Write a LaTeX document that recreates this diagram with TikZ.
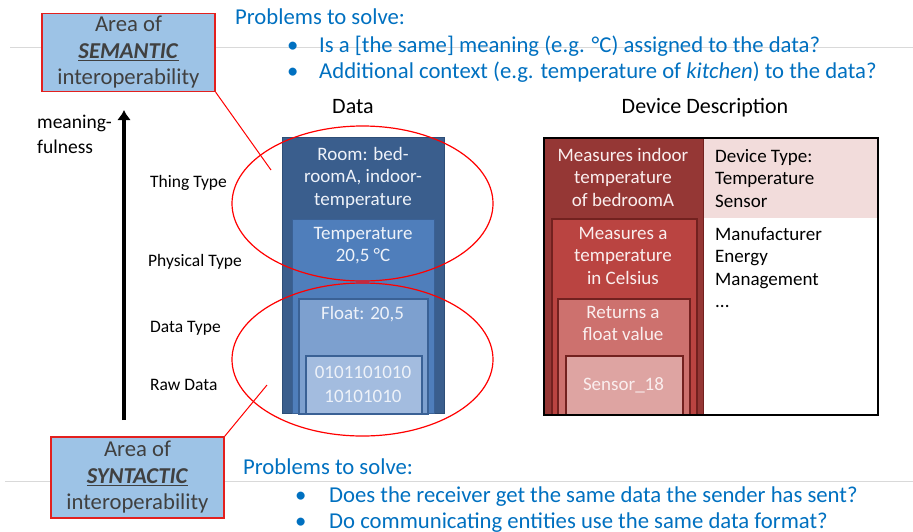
\documentclass[tikz,border=0pt]{standalone}
\usepackage{fontspec}
\setmainfont{Carlito}
\usetikzlibrary{arrows.meta,shapes.geometric}
\definecolor{probblue}{HTML}{0070C0}
\definecolor{areafill}{HTML}{9DC3E6}
\definecolor{areared}{HTML}{E3201E}
\definecolor{areatext}{HTML}{404040}
\definecolor{gridgray}{HTML}{D9D9D9}
\definecolor{bA}{HTML}{3A5E8D}
\definecolor{bB}{HTML}{4F7EBB}
\definecolor{bC}{HTML}{7DA0CF}
\definecolor{bD}{HTML}{A3BCDF}
\definecolor{bEdge}{HTML}{3A6195}
\definecolor{bTxt}{HTML}{EEF2F9}
\definecolor{rA}{HTML}{953735}
\definecolor{rB}{HTML}{BA4441}
\definecolor{rC}{HTML}{CD716E}
\definecolor{rD}{HTML}{DEA4A2}
\definecolor{rEdge}{HTML}{72211F}
\definecolor{rPink}{HTML}{F2DCDB}
\definecolor{rTxt}{HTML}{FAEEEE}
\begin{document}
\begin{tikzpicture}[x=1pt,y=-1pt,
  big/.style={font=\fontsize{22.7}{26.5}\selectfont},
  probtext/.style={big, text=probblue, anchor=base west, inner sep=0pt},
  areabox/.style={big, draw=areared, line width=1.3pt, fill=areafill, text=areatext,
     align=center, inner sep=0pt, minimum width=173pt, minimum height=78pt},
  lvl/.style={font=\fontsize{17.5}{21}\selectfont, anchor=base west, inner sep=0pt},
  coltitle/.style={font=\fontsize{22}{26}\selectfont, anchor=base, inner sep=0pt},
  layer/.style={anchor=north west, inner sep=0pt},
  boxtext/.style={font=\fontsize{19}{22.5}\selectfont, align=center, anchor=north, inner sep=0pt},
  devtext/.style={font=\fontsize{19}{22.5}\selectfont, align=left, anchor=north west, inner sep=0pt},
  zone/.style={draw=red, line width=1.2pt, ellipse, inner sep=0pt, minimum width=261pt, minimum height=155pt},
  pointer/.style={draw=red, line width=1pt},
  rule/.style={draw=gridgray, line width=1pt}
]
\useasboundingbox (0,0) rectangle (913,531);

% gray slide rules
\coordinate (ruleAa) at (10,47);  \coordinate (ruleAb) at (913,47);
\coordinate (ruleBa) at (5,481);  \coordinate (ruleBb) at (913,481);
\draw[rule] (ruleAa) -- (ruleAb);
\draw[rule] (ruleBa) -- (ruleBb);

% top problems
\node[probtext] (ptop) at (235,24) {Problems to solve:};
\node[probtext] (ptopb1) at (287,52) {•};
\node[probtext] (ptopt1) at (319,52) {Is a [the same] meaning (e.g. °C) assigned to the data?};
\node[probtext] (ptopb2) at (287,78) {•};
\node[probtext] (ptopt2) at (319,78) {Additional context (e.g. temperature of \textit{kitchen}) to the data?};

% bottom problems
\node[probtext] (pbot) at (243,474) {Problems to solve:};
\node[probtext] (pbotb1) at (295,502) {•};
\node[probtext] (pbott1) at (329,502) {Does the receiver get the same data the sender has sent?};
\node[probtext] (pbotb2) at (295,528) {•};
\node[probtext] (pbott2) at (329,528) {Do communicating entities use the same data format?};

% meaningfulness axis
\node[font=\fontsize{19.5}{24.5}\selectfont, align=left, anchor=north west, inner sep=0pt] (mean) at (37,115) {meaning-\\fulness};
\coordinate (arrbot) at (124,420);
\coordinate (arrtop) at (124,110);
\draw[line width=3.4pt, -{Latex[length=10pt,width=14pt]}] (arrbot) -- (arrtop);

% level labels
\node[lvl] (lthing) at (150,187) {Thing Type};
\node[lvl] (lphys) at (148,266) {Physical Type};
\node[lvl] (ldata) at (150,332) {Data Type};
\node[lvl] (lraw) at (150,390) {Raw Data};

% column titles
\node[coltitle] (tdata) at (353,113) {Data};
\node[coltitle] (tdev) at (705,113) {Device Description};

% data column
\node[layer, fill=bA, draw=bEdge!80!black, line width=0.8pt, minimum width=162pt, minimum height=276pt] (bone) at (282,137) {};
\node[layer, fill=bB, draw=bEdge, line width=0.8pt, minimum width=142pt, minimum height=194pt] (btwo) at (292,219) {};
\node[layer, fill=bC, draw=bEdge, line width=1.5pt, minimum width=129pt, minimum height=115pt] (bthree) at (298,298) {};
\node[layer, fill=bD, draw=bEdge, line width=1.5pt, minimum width=116pt, minimum height=58pt] (bfour) at (305,355) {};
\node[boxtext, text=bTxt] (tone) at (363,147) {Room: bed-\\roomA, indoor-\\temperature};
\node[boxtext, text=bTxt] (ttwo) at (363,227) {Temperature\\20,5 °C};
\node[boxtext, text=bTxt] (tthree) at (362.5,306) {Float: 20,5};
\node[boxtext, text=bTxt, font=\fontsize{19}{24}\selectfont] (tfour) at (363,366) {0101101010\\10101010};

% device description column
\node[layer, fill=rPink, minimum width=174pt, minimum height=81pt] (rpink) at (703,137) {};
\node[layer, fill=rA, draw=rEdge, line width=1pt, minimum width=160pt, minimum height=277pt] (rone) at (543,137) {};
\node[layer, fill=rB, draw=rEdge, line width=1.5pt, minimum width=145pt, minimum height=196pt] (rtwo) at (551,218) {};
\node[layer, fill=rC, draw=rEdge, line width=1.5pt, minimum width=132pt, minimum height=116pt] (rthree) at (557,298) {};
\node[layer, fill=rD, draw=rEdge, line width=1.5pt, minimum width=117pt, minimum height=59pt] (rfour) at (565,355) {};
\node[layer, draw=black, line width=2pt, minimum width=334pt, minimum height=277pt] (rframe) at (543,137) {};
\node[boxtext, text=rTxt] (sone) at (623,148) {Measures indoor\\temperature\\of bedroomA};
\node[boxtext, text=rTxt] (stwo) at (623,227) {Measures a\\temperature\\in Celsius};
\node[boxtext, text=rTxt] (sthree) at (623,306) {Returns a\\float value};
\node[boxtext, text=rTxt] (sfour) at (623.5,377) {Sensor\_18};
\node[devtext] (dtype) at (715,149) {Device Type:\\Temperature\\Sensor};
\node[devtext] (dmore) at (715,227) {Manufacturer\\Energy\\Management\\...};

% zones
\node[zone] (zsem) at (362.5,203.5) {};
\node[zone, minimum height=153pt] (zsyn) at (362.5,359.5) {};

% area boxes
\node[areabox] (sem) at (128.5,52.5) {Area of\\\underline{\textbf{\textit{SEMANTIC}}}\\interoperability};
\node[areabox, minimum width=173pt, minimum height=81pt] (syn) at (137.5,477.5) {Area of\\\underline{\textbf{\textit{SYNTACTIC}}}\\interoperability};

\coordinate (semend) at (271,170);
\coordinate (synend) at (267,385);
\draw[pointer] (sem.south east) -- (semend);
\draw[pointer] (syn.north east) -- (synend);
\end{tikzpicture}
\end{document}
